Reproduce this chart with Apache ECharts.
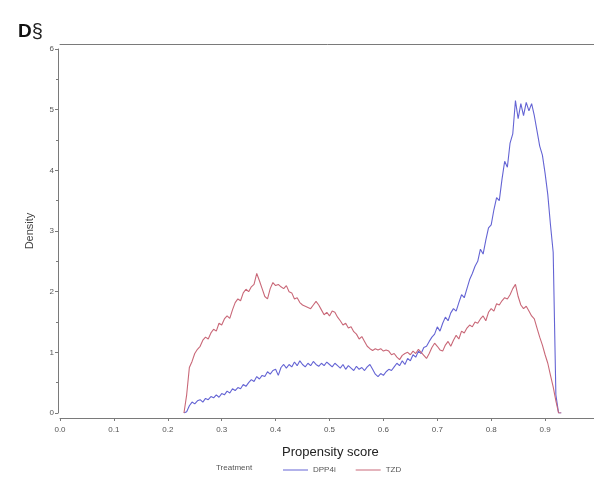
<!DOCTYPE html>
<html>
<head>
<meta charset="utf-8">
<script src="https://cdn.jsdelivr.net/npm/echarts@6/dist/echarts.min.js"></script>
<style>
  html, body { margin: 0; padding: 0; background: #fff; }
  #chart { width: 594px; height: 478px; }
</style>
</head>
<body>
<div id="chart"></div>
<script>
// propensity score grid (x positions of the density estimates)
var psX = [
  0.230, 0.235, 0.240, 0.245, 0.250, 0.255, 0.260, 0.265, 0.270, 0.275,
  0.280, 0.285, 0.290, 0.295, 0.300, 0.305, 0.310, 0.315, 0.320, 0.325,
  0.330, 0.335, 0.340, 0.345, 0.350, 0.355, 0.360, 0.365, 0.370, 0.375,
  0.380, 0.385, 0.390, 0.395, 0.400, 0.405, 0.410, 0.415, 0.420, 0.425,
  0.430, 0.435, 0.440, 0.445, 0.450, 0.455, 0.460, 0.465, 0.470, 0.475,
  0.480, 0.485, 0.490, 0.495, 0.500, 0.505, 0.510, 0.515, 0.520, 0.525,
  0.530, 0.535, 0.540, 0.545, 0.550, 0.555, 0.560, 0.565, 0.570, 0.575,
  0.580, 0.585, 0.590, 0.595, 0.600, 0.605, 0.610, 0.615, 0.620, 0.625,
  0.630, 0.635, 0.640, 0.645, 0.650, 0.655, 0.660, 0.665, 0.670, 0.675,
  0.680, 0.685, 0.690, 0.695, 0.700, 0.705, 0.710, 0.715, 0.720, 0.725,
  0.730, 0.735, 0.740, 0.745, 0.750, 0.755, 0.760, 0.765, 0.770, 0.775,
  0.780, 0.785, 0.790, 0.795, 0.800, 0.805, 0.810, 0.815, 0.820, 0.825,
  0.830, 0.835, 0.840, 0.845, 0.850, 0.855, 0.860, 0.865, 0.870, 0.875,
  0.880, 0.885, 0.890, 0.895, 0.900, 0.905, 0.910, 0.915, 0.920, 0.925,
  0.930
];

// density, DPP4i
var dpp4i = [
  0, 0.02, 0.12, 0.18, 0.15, 0.20, 0.22, 0.18, 0.24, 0.22,
  0.27, 0.25, 0.30, 0.26, 0.32, 0.30, 0.36, 0.33, 0.40, 0.37,
  0.42, 0.40, 0.47, 0.44, 0.50, 0.55, 0.52, 0.60, 0.56, 0.62,
  0.60, 0.68, 0.64, 0.70, 0.72, 0.62, 0.75, 0.80, 0.74, 0.80,
  0.76, 0.84, 0.78, 0.86, 0.80, 0.76, 0.82, 0.78, 0.85, 0.80,
  0.77, 0.82, 0.78, 0.84, 0.80, 0.76, 0.82, 0.78, 0.74, 0.80,
  0.72, 0.78, 0.74, 0.70, 0.77, 0.72, 0.75, 0.70, 0.76, 0.80,
  0.72, 0.64, 0.60, 0.65, 0.62, 0.68, 0.72, 0.70, 0.76, 0.82,
  0.78, 0.86, 0.80, 0.90, 0.86, 0.96, 0.92, 1.02, 0.98, 1.08,
  1.10, 1.18, 1.25, 1.30, 1.42, 1.35, 1.48, 1.58, 1.52, 1.65,
  1.72, 1.68, 1.82, 1.95, 1.90, 2.05, 2.20, 2.30, 2.42, 2.50,
  2.70, 2.62, 2.85, 3.05, 3.10, 3.35, 3.55, 3.50, 3.85, 4.15,
  4.05, 4.45, 4.60, 5.15, 4.85, 5.10, 4.90, 5.12, 4.98, 5.10,
  4.90, 4.65, 4.40, 4.25, 3.95, 3.60, 3.10, 2.65, 0.30, 0,
  0
];

// density, TZD
var tzd = [
  0, 0.30, 0.75, 0.85, 0.98, 1.05, 1.10, 1.20, 1.25, 1.22,
  1.32, 1.38, 1.35, 1.48, 1.45, 1.55, 1.60, 1.56, 1.70, 1.82,
  1.88, 1.85, 1.98, 2.04, 2.00, 2.08, 2.12, 2.30, 2.18, 2.05,
  1.92, 1.88, 2.05, 2.15, 2.10, 2.12, 2.08, 2.05, 2.10, 2.00,
  1.98, 1.88, 1.90, 1.82, 1.78, 1.76, 1.74, 1.72, 1.78, 1.84,
  1.78, 1.70, 1.62, 1.66, 1.60, 1.68, 1.66, 1.58, 1.52, 1.45,
  1.48, 1.40, 1.42, 1.34, 1.30, 1.22, 1.26, 1.18, 1.10, 1.06,
  1.03, 1.06, 1.04, 1.06, 1.02, 1.04, 1.02, 0.96, 0.98, 0.92,
  0.88, 0.95, 0.98, 1.00, 0.96, 1.02, 0.98, 1.05, 1.00, 0.95,
  0.90, 0.98, 1.08, 1.15, 1.10, 1.04, 1.02, 1.12, 1.18, 1.10,
  1.20, 1.28, 1.22, 1.35, 1.32, 1.40, 1.45, 1.42, 1.50, 1.48,
  1.55, 1.60, 1.52, 1.66, 1.72, 1.68, 1.80, 1.78, 1.85, 1.90,
  1.88, 1.95, 2.05, 2.12, 1.92, 1.78, 1.72, 1.76, 1.68, 1.60,
  1.55, 1.40, 1.25, 1.12, 0.96, 0.82, 0.62, 0.43, 0.20, 0,
  0
];

var seriesNames = ["DPP4i", "TZD"];

function pairs(ys) {
  return psX.map(function (x, i) { return [x, ys[i]]; });
}

var chart = echarts.init(document.getElementById("chart"));

var axisGrey = "#7a7a7a";
var font = "Liberation Sans, Arial, sans-serif";
var labelStyle = { color: "#555", fontSize: 8, fontFamily: font };
var blue = "#6464d4";
var red = "#c96878";

chart.setOption({
  animation: false,
  textStyle: { fontFamily: font },
  grid: { left: 60, right: -5, top: 49, bottom: 65, outerBoundsMode: "none", containLabel: false },
  title: {
    text: "D{s|§}",
    left: 13,
    top: 17,
    textStyle: {
      fontSize: 19,
      fontWeight: "bold",
      color: "#111",
      rich: { s: { fontSize: 20, fontWeight: "normal", color: "#222", verticalAlign: "top" } }
    }
  },
  legend: {
    data: seriesNames,
    left: 278,
    top: 461,
    icon: "rect",
    itemWidth: 25,
    itemHeight: 1,
    itemGap: 20,
    textStyle: { color: "#555", fontSize: 8 }
  },
  graphic: [
    {
      type: "text",
      left: 216,
      top: 464,
      style: { text: "Treatment", fill: "#555", fontSize: 8, fontFamily: font }
    },
    {
      type: "text",
      left: 282,
      top: 446,
      style: { text: "Propensity score", fill: "#222", fontSize: 13, fontFamily: font }
    }
  ],
  xAxis: [
    {
      type: "value",
      min: 0,
      max: 1,
      interval: 0.1,
      offset: 5,
      axisLine: { onZero: false, lineStyle: { color: axisGrey, width: 1 } },
      axisTick: { length: 3, lineStyle: { color: axisGrey } },
      axisLabel: Object.assign({
        margin: 8,
        showMaxLabel: true,
        hideOverlap: false,
        formatter: function (v) { return v.toFixed(1); }
      }, labelStyle),
      splitLine: { show: false }
    },
    {
      type: "value",
      position: "top",
      min: 0,
      max: 1,
      offset: 5,
      axisLine: { show: true, onZero: false, lineStyle: { color: axisGrey, width: 1 } },
      axisTick: { show: false },
      axisLabel: { show: false },
      splitLine: { show: false }
    }
  ],
  yAxis: {
    type: "value",
    min: 0,
    max: 6,
    interval: 1,
    offset: 2,
    name: "Density",
    nameLocation: "middle",
    nameGap: 23,
    nameTextStyle: { color: "#444", fontSize: 11 },
    axisLine: { show: true, onZero: false, lineStyle: { color: axisGrey, width: 1 } },
    axisTick: { length: 3, lineStyle: { color: axisGrey } },
    minorTick: { show: true, splitNumber: 2, length: 2, lineStyle: { color: axisGrey } },
    axisLabel: Object.assign({ margin: 4 }, labelStyle),
    splitLine: { show: false }
  },
  series: [
    {
      name: seriesNames[0],
      type: "line",
      data: pairs(dpp4i),
      symbol: "none",
      lineStyle: { color: blue, width: 1.1 },
      itemStyle: { color: blue }
    },
    {
      name: seriesNames[1],
      type: "line",
      data: pairs(tzd),
      symbol: "none",
      lineStyle: { color: red, width: 1.1 },
      itemStyle: { color: red }
    }
  ]
});
</script>
</body>
</html>
